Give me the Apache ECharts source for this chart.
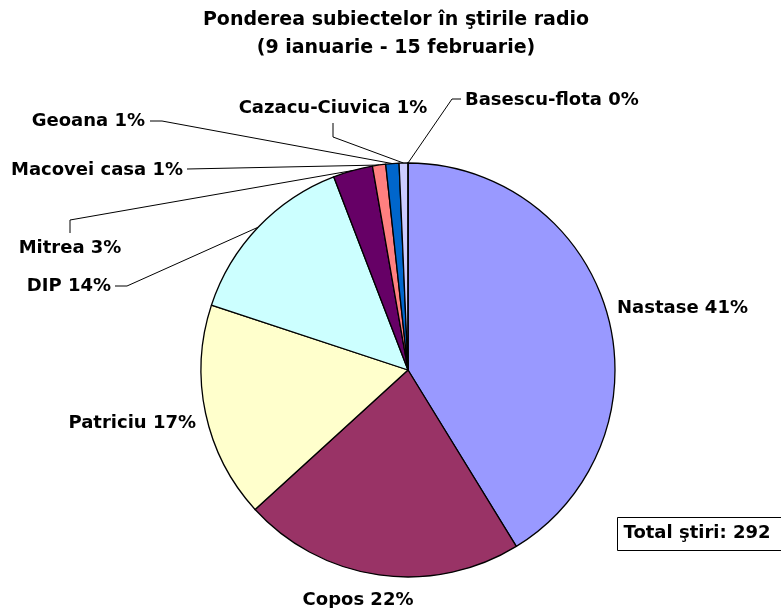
<!DOCTYPE html>
<html>
<head>
<meta charset="utf-8">
<script src="https://cdn.jsdelivr.net/npm/echarts@6/dist/echarts.min.js"></script>
<style>
html,body{margin:0;padding:0;background:#fff;}
#main{width:781px;height:608px;}
</style>
</head>
<body>
<div id="main"></div>
<script>
// ---- data ----
var categories = ['Nastase', 'Copos', 'Patriciu', 'DIP', 'Mitrea', 'Macovei casa', 'Geoana', 'Cazacu-Ciuvica', 'Basescu-flota'];
var counts = [120, 64, 49, 41, 9, 3, 3, 2, 0];
var totalLabel = 'Total ştiri: 292';
var titleText = 'Ponderea subiectelor în ştirile radio\n(9 ianuarie - 15 februarie)';

// ---- styles / layout (not data) ----
var colors = ['#9999FF', '#993366', '#FFFFCC', '#CCFFFF', '#660066', '#FF8080', '#0066CC', '#CCCCFF', '#000080'];
// label anchor positions and leader elbows
var labelPos = [
  {x: 617, y: 308, align: 'left'},
  {x: 358, y: 600, align: 'center'},
  {x: 196, y: 423, align: 'right'},
  {x: 111, y: 286, align: 'right', line: [[127, 286], [115, 286]]},
  {x: 70, y: 248, align: 'center', line: [[70, 220], [70, 233]]},
  {x: 183, y: 170, align: 'right', line: [[187, 169]]},
  {x: 145, y: 121, align: 'right', line: [[162, 121], [150, 121]]},
  {x: 333, y: 108, align: 'center', line: [[333, 137], [333, 123]]},
  {x: 465, y: 100, align: 'left', line: [[452, 99], [461, 99]]}
];

var total = counts.reduce(function(a, b){ return a + b; }, 0);
var seriesData = categories.map(function(name, i){
  return {
    name: name,
    value: counts[i],
    itemStyle: {color: colors[i]},
    labelLine: {show: !!labelPos[i].line}
  };
});

var chart = echarts.init(document.getElementById('main'));
chart.setOption({
  backgroundColor: '#fff',
  animation: false,
  title: {
    text: titleText,
    left: 391,
    textAlign: 'center',
    top: 1,
    textStyle: {fontFamily: 'DejaVu Sans', fontWeight: 'bold', fontSize: 19, lineHeight: 28, color: '#000'}
  },
  series: [{
    type: 'pie',
    center: [408, 370],
    radius: 207,
    startAngle: 90,
    clockwise: true,
    avoidLabelOverlap: false,
    itemStyle: {borderColor: '#000', borderWidth: 1.3},
    label: {
      show: true,
      position: 'outside',
      fontFamily: 'DejaVu Sans',
      fontWeight: 'bold',
      fontSize: 18,
      color: '#000',
      formatter: function(p){ return p.name + ' ' + Math.round(p.value / total * 100) + '%'; }
    },
    labelLine: {show: true, length: 10, length2: 10, lineStyle: {color: '#000', width: 1}},
    labelLayout: function(params){
      var lp = labelPos[params.dataIndex];
      var res = {x: lp.x, y: lp.y, align: lp.align, verticalAlign: 'middle', hideOverlap: false, moveOverlap: null};
      if (lp.line && params.labelLinePoints) {
        var start = params.labelLinePoints[0];
        res.labelLinePoints = [start].concat(lp.line);
      }
      return res;
    },
    data: seriesData
  }],
  graphic: [{
    type: 'group',
    left: 617,
    top: 517,
    children: [
      {type: 'rect', shape: {x: 0, y: 0, width: 170, height: 33}, style: {fill: '#fff', stroke: '#000', lineWidth: 1}},
      {type: 'text', x: 6, y: 16, style: {text: totalLabel, fontFamily: 'DejaVu Sans', fontWeight: 'bold', fontSize: 18, fill: '#000', verticalAlign: 'middle'}}
    ]
  }]
});
</script>
</body>
</html>
